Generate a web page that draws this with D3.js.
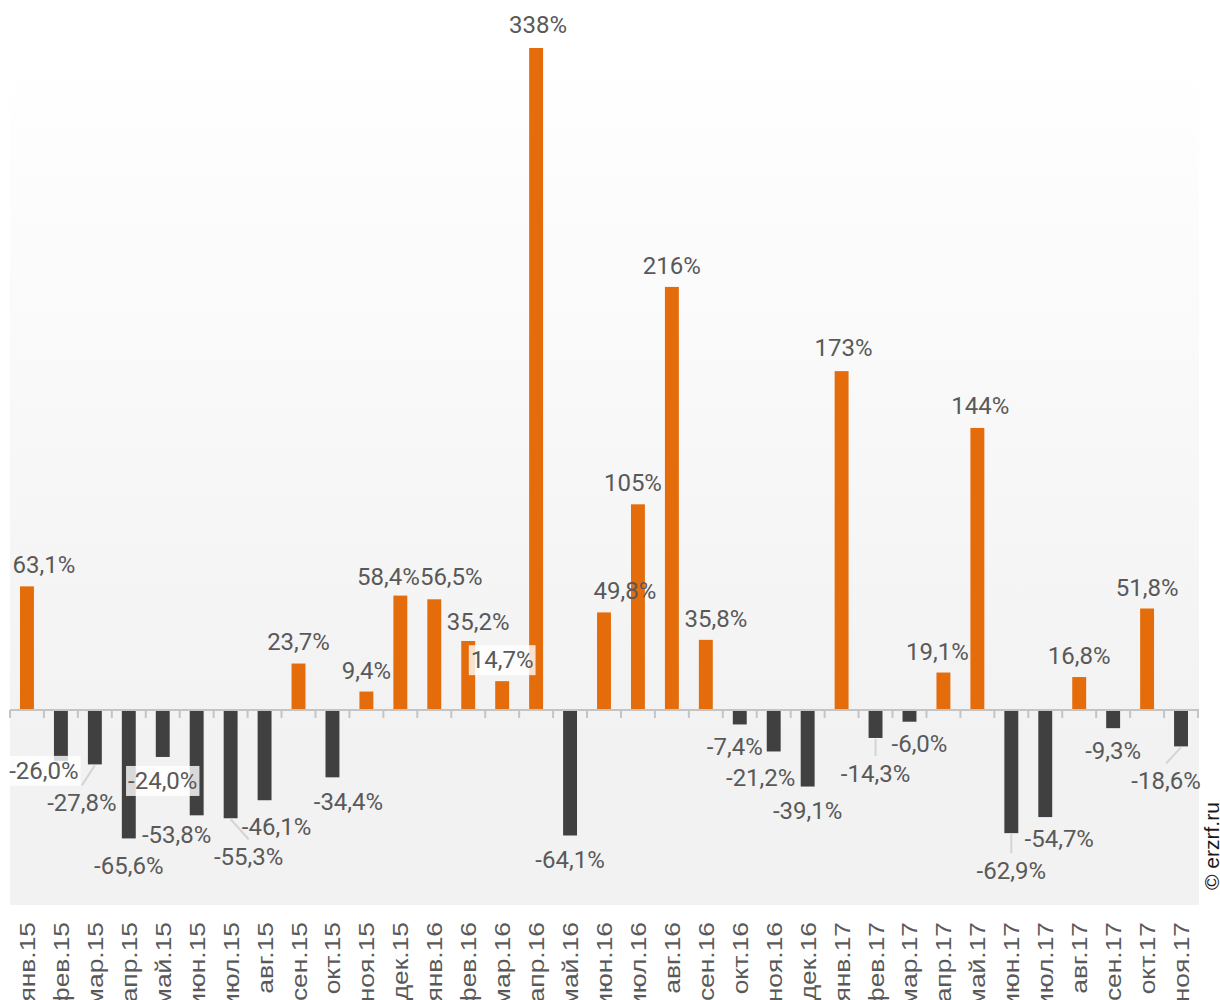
<!DOCTYPE html>
<html>
<head>
<meta charset="utf-8">
<script src="https://cdn.jsdelivr.net/npm/d3@7"></script>
<style>
  body { margin: 0; background: #fff; }
  svg { display: block; }
  .lbl { font-family: Roboto, sans-serif; font-size: 24px; fill: #595959; }
  .xlbl { font-family: "Liberation Sans", Arial, sans-serif; font-size: 22px; fill: #595959; }
</style>
</head>
<body>
<svg id="chart" width="1220" height="1000"></svg>
<script>
'use strict';

// месяцы
var months = ['янв.15', 'фев.15', 'мар.15', 'апр.15', 'май.15', 'июн.15', 'июл.15', 'авг.15', 'сен.15', 'окт.15', 'ноя.15', 'дек.15',
    'янв.16', 'фев.16', 'мар.16', 'апр.16', 'май.16', 'июн.16', 'июл.16', 'авг.16', 'сен.16', 'окт.16', 'ноя.16', 'дек.16',
    'янв.17', 'фев.17', 'мар.17', 'апр.17', 'май.17', 'июн.17', 'июл.17', 'авг.17', 'сен.17', 'окт.17', 'ноя.17'];

// изменение, %
var values = [63.1, -26.0, -27.8, -65.6, -24.0, -53.8, -55.3, -46.1, 23.7, -34.4, 9.4, 58.4,
    56.5, 35.2, 14.7, 338, -64.1, 49.8, 105, 216, 35.8, -7.4, -21.2, -39.1,
    173, -14.3, -6.0, 19.1, 144, -62.9, -54.7, 16.8, -9.3, 51.8, -18.6];

// сдвиг подписей (px), чтобы они не наезжали друг на друга
var labelShift = [[17, 0], [-17, -12], [-13, 17], [0, 6], [0, 2], [-20, -2], [18, 17], [12, 5], [0, -1], [16, 3], [0, 0], [-12, 2],
    [17, -1], [10, 2], [0, 0], [2, -2], [0, 3], [21, 0], [-5, 0], [0, 0], [10, 0], [-5, 1], [-13, 5], [0, 2],
    [2, -2], [0, 14], [10, 0], [-6, 0], [3, -1], [0, 16], [14, 0], [0, 0], [0, 1], [0, 0], [-15, 13]];
var leaderIdx = [2, 6, 25, 29, 34];
var boxedIdx = [1, 4, 14];

var data = months.map(function (m, i) {
    return { month: m, value: values[i], shift: labelShift[i], i: i };
});

var ru = d3.formatLocale({ decimal: ',', thousands: ' ', grouping: [3], currency: ['', ''], minus: '-' });

var svg = d3.select('#chart');
var plot = { left: 10, right: 1198, top: 55, bottom: 905 };

var defs = svg.append('defs');
var grad = defs.append('linearGradient').attr('id', 'bg').attr('x1', 0).attr('y1', 0).attr('x2', 0).attr('y2', 1);
grad.append('stop').attr('offset', '0%').attr('stop-color', '#ffffff');
grad.append('stop').attr('offset', '80%').attr('stop-color', '#f2f2f2');
grad.append('stop').attr('offset', '100%').attr('stop-color', '#f2f2f2');

svg.append('rect')
    .attr('x', plot.left).attr('y', plot.top)
    .attr('width', plot.right - plot.left + 1).attr('height', plot.bottom - plot.top)
    .attr('fill', 'url(#bg)');

var x = d3.scaleBand().domain(months).range([plot.left, plot.right]).paddingInner(0.59).paddingOuter(0.295);
var y = d3.scaleLinear().domain([-100, 338]).range([905.8, 48]);

// столбцы
svg.append('g').selectAll('rect').data(data).enter().append('rect')
    .attr('x', function (d) { return x(d.month); })
    .attr('width', x.bandwidth())
    .attr('y', function (d) { return y(Math.max(0, d.value)); })
    .attr('height', function (d) { return Math.abs(y(d.value) - y(0)); })
    .attr('fill', function (d) { return d.value >= 0 ? '#e46c0a' : '#404040'; });

// ось X
var step = x.step();
var ticks = d3.range(months.length + 1).map(function (k) { return plot.left + k * step; });
var axis = svg.append('g');
axis.append('line')
    .attr('x1', plot.left).attr('x2', plot.right + 1)
    .attr('y1', y(0)).attr('y2', y(0))
    .attr('stroke', '#c4c4c4').attr('stroke-width', 2);
axis.selectAll('.tick').data(ticks).enter().append('line')
    .attr('x1', function (d) { return d; }).attr('x2', function (d) { return d; })
    .attr('y1', y(0)).attr('y2', y(0) + 8)
    .attr('stroke', '#c4c4c4').attr('stroke-width', 2);

// подписи месяцев (в исходнике растянуты по длине и обрезаны снизу)
svg.append('g').selectAll('text').data(data).enter().append('text')
    .attr('class', 'xlbl')
    .attr('text-anchor', 'end')
    .attr('transform', function (d) {
        var cx = x(d.month) + x.bandwidth() / 2;
        return 'translate(' + (cx + 8) + ',922) rotate(-90) scale(1.2,1)';
    })
    .text(function (d) { return d.month; });

function fmt(v) {
    if (Math.abs(v) >= 100) return ru.format('d')(v) + '%';
    return ru.format('.1f')(v) + '%';
}

function labelPos(d) {
    var cx = x(d.month) + x.bandwidth() / 2;
    var base = d.value >= 0 ? y(d.value) - 13 : y(d.value) + 30;
    return { x: cx + d.shift[0], y: base + d.shift[1], cx: cx };
}

// выноски
svg.append('g').selectAll('line').data(data.filter(function (d) { return leaderIdx.indexOf(d.i) >= 0; }))
    .enter().append('line')
    .attr('x1', function (d) { return labelPos(d).cx; })
    .attr('y1', function (d) { return y(d.value) + 1; })
    .attr('x2', function (d) { return labelPos(d).x; })
    .attr('y2', function (d) { return labelPos(d).y - 26; })
    .attr('stroke', '#d4d4d4').attr('stroke-width', 2);

// подписи значений
var labels = svg.append('g');
data.forEach(function (d) {
    var p = labelPos(d);
    var g = labels.append('g');
    var t = g.append('text')
        .attr('class', 'lbl')
        .attr('text-anchor', 'middle')
        .attr('x', p.x).attr('y', p.y)
        .text(fmt(d.value));
    if (boxedIdx.indexOf(d.i) >= 0) {
        var b = t.node().getBBox();
        g.insert('rect', 'text')
            .attr('x', b.x - 2).attr('y', b.y - 1)
            .attr('width', b.width + 4).attr('height', b.height + 2)
            .attr('fill', '#ffffff').attr('fill-opacity', 0.8);
    }
});

// копирайт
svg.append('text')
    .attr('transform', 'translate(1219,890) rotate(-90)')
    .attr('font-family', '"Liberation Sans", Arial, sans-serif')
    .attr('font-size', 21)
    .attr('fill', '#1a1a1a')
    .text('© erzrf.ru');
</script>
</body>
</html>
